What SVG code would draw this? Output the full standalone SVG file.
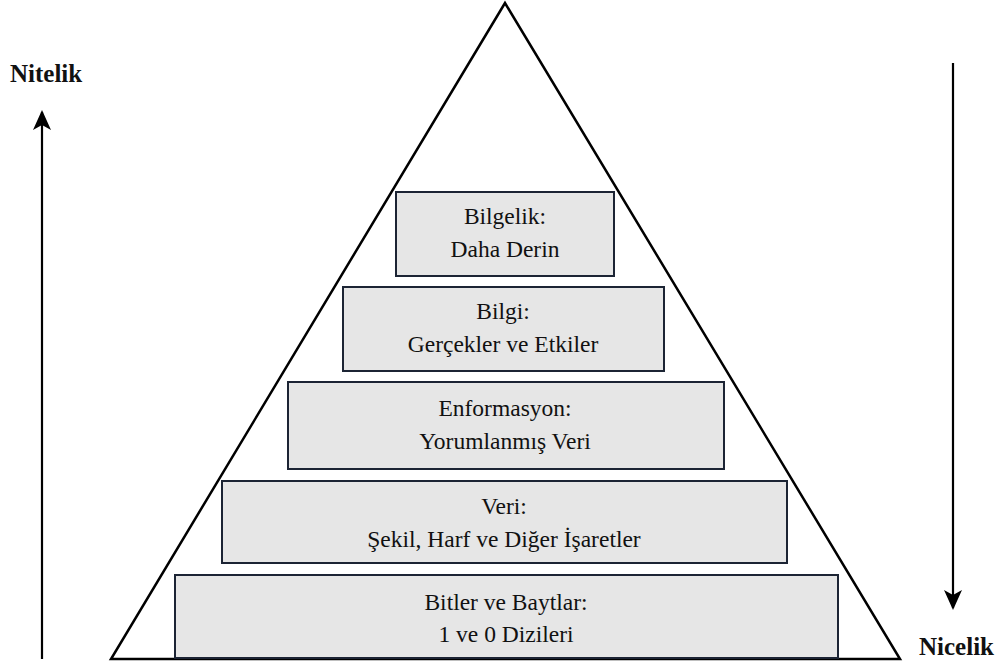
<svg xmlns="http://www.w3.org/2000/svg" width="1007" height="666" viewBox="0 0 1007 666">
<style>
.box{fill:#e6e6e6;stroke:#1c2434;stroke-width:2}
.t{font-family:"Liberation Serif","Times New Roman",serif;font-size:23.5px;fill:#111;text-anchor:middle}
.lbl{font-family:"Liberation Serif","Times New Roman",serif;font-size:25px;font-weight:bold;fill:#111}
.ln{stroke:#000;stroke-width:2.2;fill:none}
</style>
<defs>
<marker id="ah" markerWidth="20" markerHeight="18" refX="18" refY="9" orient="auto" markerUnits="userSpaceOnUse" viewBox="0 0 20 18">
<path d="M0,0 L20,9 L0,18 L5,9 Z" fill="#000"/>
</marker>
</defs>
<g id="triangle">
<polygon points="505,3 111,659 900,659" fill="#fff" stroke="#000" stroke-width="2.5" stroke-linejoin="miter"/>
</g>
<g id="n-bilgelik">
<rect class="box" x="396" y="192" width="218" height="84"/>
<text class="t" x="505" y="224">Bilgelik:</text>
<text class="t" x="505" y="257">Daha Derin</text>
</g>
<g id="n-bilgi">
<rect class="box" x="343" y="287" width="321" height="84"/>
<text class="t" x="503" y="319">Bilgi:</text>
<text class="t" x="503" y="352">Gerçekler ve Etkiler</text>
</g>
<g id="n-enformasyon">
<rect class="box" x="288" y="382" width="436" height="87"/>
<text class="t" x="505" y="416">Enformasyon:</text>
<text class="t" x="505" y="449">Yorumlanmış Veri</text>
</g>
<g id="n-veri">
<rect class="box" x="222" y="481" width="565" height="82"/>
<text class="t" x="504" y="514">Veri:</text>
<text class="t" x="504" y="547">Şekil, Harf ve Diğer İşaretler</text>
</g>
<g id="n-bitler">
<rect class="box" x="175" y="575" width="663" height="83"/>
<text class="t" x="506" y="610">Bitler ve Baytlar:</text>
<text class="t" x="506" y="642">1 ve 0 Dizileri</text>
</g>
<g id="connectors">
<line class="ln" x1="42" y1="659" x2="42" y2="112" marker-end="url(#ah)"/>
<line class="ln" x1="953" y1="63" x2="953" y2="608" marker-end="url(#ah)"/>
</g>
<g id="labels">
<text class="lbl" x="10" y="82">Nitelik</text>
<text class="lbl" x="919" y="655">Nicelik</text>
</g>
</svg>
